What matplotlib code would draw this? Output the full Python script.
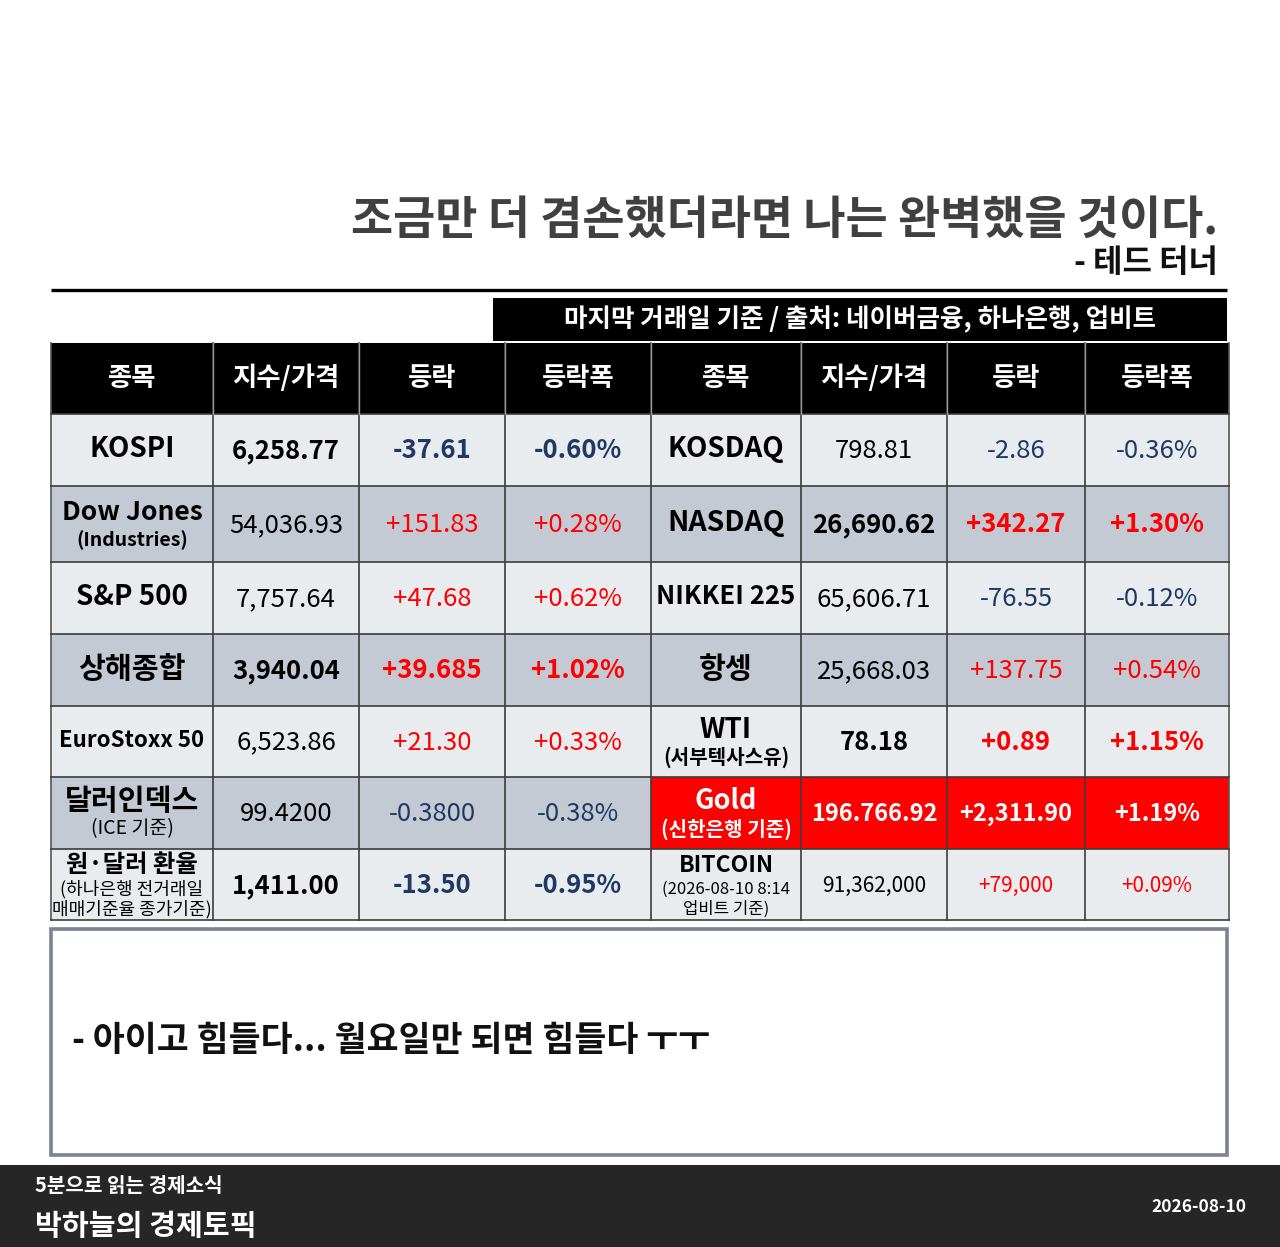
"""Market summary table card (reproduction)."""

import matplotlib

matplotlib.use("Agg")
import matplotlib.pyplot as plt
from matplotlib.patches import Rectangle

plt.rcParams["font.family"] = ["Noto Sans CJK KR", "DejaVu Sans"]

# ---- data -------------------------------------------------------------
headers = ["종목", "지수/가격", "등락", "등락폭", "종목", "지수/가격", "등락", "등락폭"]

left_names = ["KOSPI", "Dow Jones", "S&P 500", "상해종합", "EuroStoxx 50", "달러인덱스", "원·달러 환율"]
left_subs = ["", "(Industries)", "", "", "", "(ICE 기준)", "(하나은행 전거래일\n매매기준율 종가기준)"]
left_prices = ["6,258.77", "54,036.93", "7,757.64", "3,940.04", "6,523.86", "99.4200", "1,411.00"]
left_changes = ["-37.61", "+151.83", "+47.68", "+39.685", "+21.30", "-0.3800", "-13.50"]
left_pcts = ["-0.60%", "+0.28%", "+0.62%", "+1.02%", "+0.33%", "-0.38%", "-0.95%"]

right_names = ["KOSDAQ", "NASDAQ", "NIKKEI 225", "항셍", "WTI", "Gold", "BITCOIN"]
right_subs = ["", "", "", "", "(서부텍사스유)", "(신한은행 기준)", "(2026-08-10 8:14\n업비트 기준)"]
right_prices = ["798.81", "26,690.62", "65,606.71", "25,668.03", "78.18", "196.766.92", "91,362,000"]
right_changes = ["-2.86", "+342.27", "-76.55", "+137.75", "+0.89", "+2,311.90", "+79,000"]
right_pcts = ["-0.36%", "+1.30%", "-0.12%", "+0.54%", "+1.15%", "+1.19%", "+0.09%"]

title = "조금만 더 겸손했더라면 나는 완벽했을 것이다."
author = "- 테드 터너"
source = "마지막 거래일 기준 / 출처: 네이버금융, 하나은행, 업비트"
comment = "- 아이고 힘들다... 월요일만 되면 힘들다 ㅜㅜ"
footer_small = "5분으로 읽는 경제소식"
footer_big = "박하늘의 경제토픽"
footer_date = "2026-08-10"

# ---- layout / style ---------------------------------------------------
col_x = [51, 213, 359, 505, 651, 801, 947, 1085, 1229]
row_y = [343, 414, 486, 562, 634, 706, 777, 849, 920]
LIGHT = "#e9ecef"
DARK = "#c4cad3"
NAVY = "#1f3864"
RED = "#ff0000"
GRID = "#3c3c3c"

left_bold = [True, False, False, True, False, False, True]
right_bold = [False, True, False, False, True, True, False]
name_size_l = [20, 19, 20, 21, 16, 21, 17.5]
name_size_r = [20, 20.5, 18.5, 21, 20, 19.5, 16.5]
sub_size_l = [0, 14, 0, 0, 0, 14, 13]
sub_size_r = [0, 0, 0, 0, 14.5, 14.5, 12]

fig = plt.figure(figsize=(12.8, 12.47), dpi=100)
ax = fig.add_axes([0, 0, 1, 1])
ax.set_xlim(0, 1280)
ax.set_ylim(1247, 0)
ax.axis("off")

# title block
ax.text(1218, 221, title, ha="right", va="center", fontsize=33, fontweight="bold", color="#404040")
ax.text(1218, 263, author, ha="right", va="center", fontsize=23, fontweight="bold", color="#111111")
ax.plot([51, 1227], [290, 290], color="black", lw=2.4, solid_capstyle="butt")

ax.add_patch(Rectangle((493, 298), 734, 43, facecolor="black", edgecolor="none"))
ax.text(860, 320, source, ha="center", va="center", fontsize=18.4, fontweight="bold", color="white")

# header row
ax.add_patch(Rectangle((col_x[0], row_y[0]), col_x[-1] - col_x[0], row_y[1] - row_y[0],
                       facecolor="black", edgecolor="none"))
for i, h in enumerate(headers):
    cx = (col_x[i] + col_x[i + 1]) / 2
    ax.text(cx, (row_y[0] + row_y[1]) / 2, h, ha="center", va="center",
            fontsize=19, fontweight="bold", color="white")


def sign_color(s):
    return RED if s.startswith("+") else NAVY


def draw_side(c0, names, subs, prices, changes, pcts, bolds, nsizes, ssizes, is_right):
    for r in range(len(names)):
        y0, y1 = row_y[r + 1], row_y[r + 2]
        cy = (y0 + y1) / 2
        fill = DARK if r % 2 == 1 else LIGHT
        gold = is_right and names[r] == "Gold"
        for c in range(4):
            x0, x1 = col_x[c0 + c], col_x[c0 + c + 1]
            ax.add_patch(Rectangle((x0, y0), x1 - x0, y1 - y0,
                                   facecolor=RED if gold else fill, edgecolor="none"))
        w = "bold" if bolds[r] else "normal"
        name_color = "white" if gold else "black"
        nx = (col_x[c0] + col_x[c0 + 1]) / 2
        sub = subs[r]
        if not sub:
            ax.text(nx, cy - 1, names[r], ha="center", va="center", fontsize=nsizes[r],
                    fontweight="bold", color=name_color)
        elif "\n" in sub:
            l1, l2 = sub.split("\n")
            ax.text(nx, y0 + 16, names[r], ha="center", va="center", fontsize=nsizes[r],
                    fontweight="bold", color=name_color)
            ax.text(nx, y0 + 40, l1, ha="center", va="center", fontsize=ssizes[r], color="black")
            ax.text(nx, y0 + 60, l2, ha="center", va="center", fontsize=ssizes[r], color="black")
        else:
            ax.text(nx, cy - 12, names[r], ha="center", va="center", fontsize=nsizes[r],
                    fontweight="bold", color=name_color)
            ax.text(nx, cy + 16, sub, ha="center", va="center", fontsize=ssizes[r],
                    fontweight="bold" if names[r] != "달러인덱스" else "normal", color=name_color)
        if names[r] == "BITCOIN":
            vsize = 15
        elif gold:
            vsize = 17
        else:
            vsize = 18.5
        vals = [(prices[r], "white" if gold else "black"),
                (changes[r], "white" if gold else sign_color(changes[r])),
                (pcts[r], "white" if gold else sign_color(pcts[r]))]
        for k, (txt, col) in enumerate(vals):
            vx = (col_x[c0 + k + 1] + col_x[c0 + k + 2]) / 2
            ax.text(vx, cy + 1, txt, ha="center", va="center", fontsize=vsize,
                    fontweight=w, color=col)


draw_side(0, left_names, left_subs, left_prices, left_changes, left_pcts,
          left_bold, name_size_l, sub_size_l, False)
draw_side(4, right_names, right_subs, right_prices, right_changes, right_pcts,
          right_bold, name_size_r, sub_size_r, True)

# grid lines
for x in col_x:
    ax.plot([x, x], [row_y[0], row_y[-1]], color=GRID if x not in (col_x[0], col_x[-1]) else "#555555",
            lw=1.2)
for y in row_y[1:]:
    ax.plot([col_x[0], col_x[-1]], [y, y], color=GRID, lw=1.2)
for c in range(1, 8):
    ax.plot([col_x[c], col_x[c]], [row_y[0], row_y[1]], color="#9a9a9a", lw=1.0)

# comment box
ax.add_patch(Rectangle((51, 929), 1176, 226, facecolor="white", edgecolor="#7a8391", lw=2.6))
ax.text(72, 1041, comment, ha="left", va="center", fontsize=25, fontweight="bold", color="#111111")

# footer
ax.add_patch(Rectangle((0, 1165), 1280, 82, facecolor="#262626", edgecolor="none"))
ax.text(35, 1186, footer_small, ha="left", va="center", fontsize=14.5, fontweight="bold", color="white")
ax.text(35, 1226, footer_big, ha="left", va="center", fontsize=21, fontweight="bold", color="white")
ax.text(1246, 1207, footer_date, ha="right", va="center", fontsize=12.5, fontweight="bold", color="white")

fig.savefig("out.png", dpi=100, facecolor="white")
plt.close(fig)
